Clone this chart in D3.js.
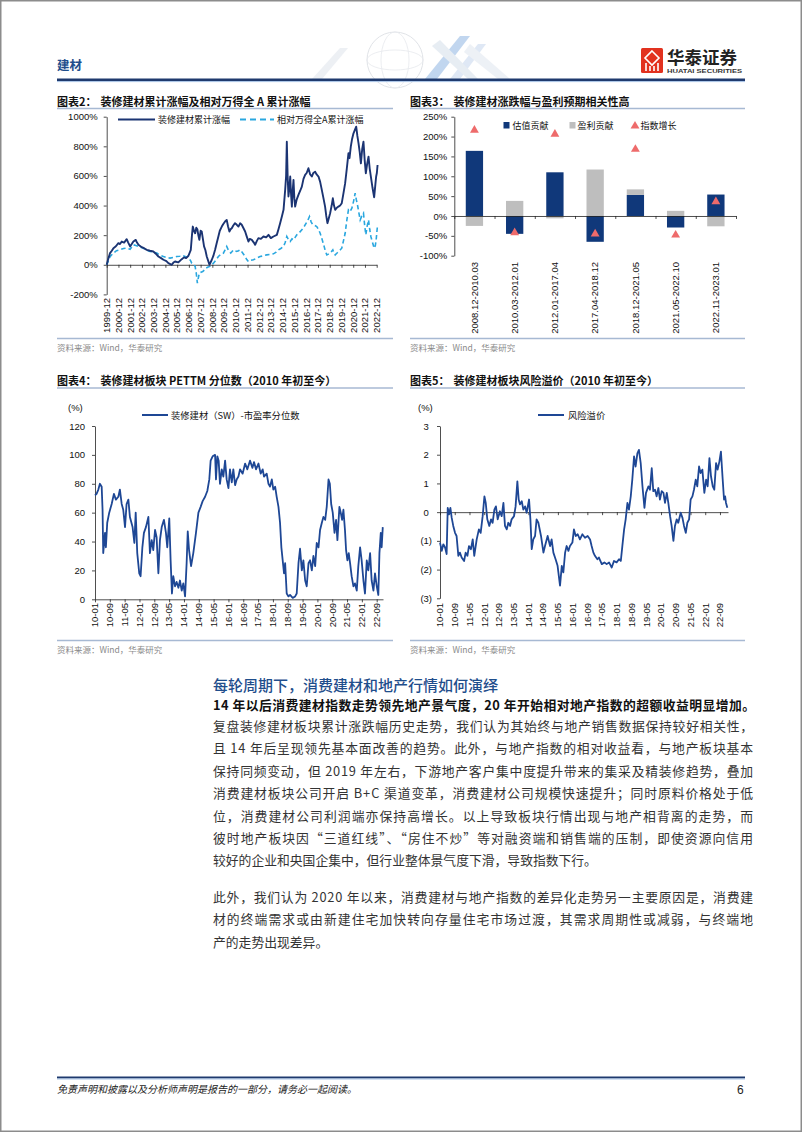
<!DOCTYPE html>
<html><head><meta charset="utf-8">
<script src="https://cdn.jsdelivr.net/npm/d3@7"></script>
<style>body{margin:0;background:#fff}svg{display:block}</style>
</head><body>
<svg id="page" width="802" height="1133"></svg>
<script>
// ---------------- DATA ----------------
const c2Ticks = ["1999-12","2000-12","2001-12","2002-12","2003-12","2004-12","2005-12","2006-12","2007-12","2008-12","2009-12","2010-12","2011-12","2012-12","2013-12","2014-12","2015-12","2016-12","2017-12","2018-12","2019-12","2020-12","2021-12","2022-12"];
const c2SeriesNames = ["装修建材累计涨幅","相对万得全A累计涨幅"];
const c2Sector = [[1999.92,0],[2000.05,40],[2000.20,79],[2000.35,95],[2000.49,112],[2000.70,125],[2000.91,146],[2001.05,140],[2001.20,157],[2001.40,150],[2001.62,173],[2001.75,150],[2001.91,124],[2002.05,140],[2002.19,157],[2002.39,168],[2002.50,150],[2002.62,135],[2002.90,119],[2003.10,112],[2003.33,101],[2003.60,95],[2003.89,90],[2004.10,75],[2004.32,56],[2004.55,45],[2004.75,34],[2005.00,25],[2005.17,11],[2005.46,0],[2005.60,15],[2005.74,22],[2006.02,16],[2006.20,30],[2006.31,38],[2006.50,50],[2006.68,45],[2006.88,61],[2007.08,101],[2007.18,200],[2007.25,258],[2007.35,230],[2007.45,213],[2007.55,250],[2007.64,240],[2007.72,200],[2007.81,168],[2007.92,230],[2008.01,225],[2008.10,180],[2008.21,124],[2008.32,100],[2008.44,56],[2008.55,30],[2008.67,0],[2008.87,34],[2009.00,60],[2009.15,101],[2009.30,150],[2009.43,191],[2009.55,230],[2009.72,258],[2009.85,275],[2010.00,292],[2010.14,303],[2010.25,260],[2010.37,225],[2010.47,240],[2010.57,247],[2010.70,265],[2010.85,281],[2011.00,270],[2011.14,258],[2011.28,280],[2011.42,270],[2011.55,250],[2011.71,225],[2011.85,190],[2011.99,157],[2012.10,175],[2012.28,168],[2012.45,150],[2012.56,135],[2012.70,160],[2012.84,180],[2013.05,175],[2013.27,191],[2013.50,185],[2013.70,202],[2013.90,180],[2014.12,191],[2014.41,202],[2014.55,240],[2014.69,281],[2014.85,330],[2014.98,371],[2015.12,506],[2015.20,600],[2015.26,831],[2015.33,600],[2015.40,461],[2015.48,520],[2015.55,596],[2015.62,480],[2015.69,393],[2015.76,500],[2015.83,573],[2015.90,450],[2015.97,393],[2016.10,440],[2016.25,472],[2016.40,500],[2016.54,528],[2016.68,580],[2016.82,607],[2016.95,620],[2017.10,652],[2017.25,610],[2017.39,596],[2017.52,620],[2017.67,629],[2017.80,610],[2017.96,596],[2018.10,560],[2018.24,506],[2018.38,450],[2018.52,393],[2018.62,330],[2018.72,281],[2018.82,310],[2018.95,348],[2019.08,400],[2019.18,449],[2019.28,400],[2019.38,371],[2019.52,385],[2019.66,393],[2019.80,400],[2019.94,416],[2020.08,480],[2020.23,551],[2020.37,650],[2020.51,753],[2020.60,720],[2020.71,798],[2020.82,850],[2020.94,888],[2021.05,910],[2021.17,933],[2021.27,870],[2021.37,820],[2021.47,760],[2021.57,685],[2021.68,780],[2021.79,831],[2021.90,700],[2021.99,618],[2022.10,680],[2022.22,730],[2022.32,650],[2022.42,596],[2022.56,520],[2022.70,456],[2022.80,540],[2022.87,596],[2022.93,620],[2022.99,674]];
const c2Relative = [[1999.92,0],[2000.20,55],[2000.49,79],[2000.75,95],[2001.05,101],[2001.35,110],[2001.62,112],[2001.91,105],[2002.19,135],[2002.40,130],[2002.62,124],[2003.04,112],[2003.30,100],[2003.61,90],[2003.90,85],[2004.18,79],[2004.45,65],[2004.75,56],[2005.05,48],[2005.31,45],[2005.60,50],[2005.88,56],[2006.15,58],[2006.45,61],[2006.70,52],[2006.88,45],[2007.05,30],[2007.16,11],[2007.30,5],[2007.45,-11],[2007.55,-60],[2007.64,-124],[2007.72,-90],[2007.81,-56],[2007.95,-50],[2008.10,-45],[2008.25,-35],[2008.38,-22],[2008.55,-15],[2008.72,-11],[2009.01,11],[2009.20,30],[2009.43,56],[2009.65,70],[2009.86,79],[2010.00,100],[2010.14,124],[2010.30,95],[2010.48,79],[2010.60,90],[2010.71,101],[2010.85,95],[2010.99,90],[2011.15,95],[2011.28,101],[2011.50,80],[2011.71,56],[2011.85,35],[2011.99,22],[2012.20,30],[2012.42,34],[2012.70,45],[2012.98,56],[2013.25,60],[2013.55,67],[2013.85,70],[2014.12,74],[2014.35,85],[2014.55,101],[2014.75,110],[2014.98,124],[2015.12,150],[2015.26,191],[2015.40,170],[2015.55,157],[2015.70,175],[2015.83,168],[2015.97,185],[2016.11,202],[2016.30,215],[2016.54,236],[2016.75,260],[2016.91,281],[2017.05,300],[2017.19,326],[2017.33,290],[2017.47,270],[2017.65,265],[2017.81,258],[2017.95,240],[2018.10,213],[2018.27,170],[2018.44,124],[2018.55,90],[2018.67,67],[2018.80,72],[2018.95,79],[2019.07,90],[2019.18,101],[2019.28,80],[2019.38,67],[2019.52,78],[2019.66,90],[2019.80,100],[2019.94,112],[2020.08,160],[2020.23,213],[2020.37,300],[2020.51,371],[2020.65,360],[2020.80,382],[2020.95,430],[2021.08,483],[2021.18,440],[2021.28,404],[2021.40,350],[2021.51,303],[2021.65,330],[2021.79,348],[2021.90,260],[2021.99,202],[2022.10,260],[2022.22,303],[2022.32,240],[2022.42,191],[2022.56,150],[2022.70,112],[2022.80,130],[2022.87,168],[2022.93,220],[2022.99,270]];

const c3Categories = ["2008.12-2010.03","2010.03-2012.01","2012.01-2017.04","2017.04-2018.12","2018.12-2021.05","2021.05-2022.10","2022.11-2023.01"];
const c3SeriesNames = ["估值贡献","盈利贡献","指数增长"];
const c3Valuation = [164,-45,110,-65,53,-29,54];
const c3Earnings = [-25,38,-6,117,14,13,-26];
const c3Index = [216,-42,206,-45,168,-48,36];

const c45Ticks = ["10-01","10-09","11-05","12-01","12-09","13-05","14-01","14-09","15-05","16-01","16-09","17-05","18-01","18-09","19-05","20-01","20-09","21-05","22-01","22-09"];
const c4Name = "装修建材（SW）-市盈率分位数";
const c4Pe = [[2010.00,72],[2010.07,73],[2010.15,76],[2010.22,80],[2010.30,78],[2010.34,62],[2010.37,32],[2010.45,46],[2010.49,36],[2010.55,53],[2010.64,60],[2010.75,66],[2010.85,73],[2010.94,69],[2011.05,71],[2011.12,76],[2011.20,66],[2011.27,62],[2011.35,50],[2011.42,66],[2011.50,69],[2011.57,57],[2011.69,50],[2011.77,39],[2011.83,60],[2011.90,32],[2011.99,18],[2012.05,16],[2012.13,36],[2012.20,46],[2012.29,50],[2012.40,57],[2012.47,32],[2012.55,41],[2012.62,34],[2012.70,48],[2012.77,43],[2012.85,18],[2012.92,41],[2013.00,50],[2013.10,55],[2013.19,46],[2013.25,36],[2013.34,56],[2013.40,27],[2013.46,4],[2013.52,16],[2013.60,9],[2013.67,12],[2013.75,8],[2013.82,13],[2013.90,6],[2013.97,11],[2014.05,2],[2014.12,25],[2014.17,47],[2014.23,34],[2014.32,23],[2014.42,32],[2014.54,46],[2014.65,60],[2014.75,64],[2014.84,68],[2014.95,71],[2015.05,75],[2015.14,83],[2015.20,96],[2015.29,99],[2015.40,100],[2015.44,83],[2015.50,99],[2015.56,96],[2015.62,80],[2015.70,90],[2015.77,85],[2015.85,96],[2015.92,83],[2016.00,77],[2016.07,90],[2016.15,81],[2016.22,90],[2016.30,79],[2016.37,83],[2016.45,85],[2016.52,90],[2016.64,87],[2016.75,94],[2016.85,90],[2016.97,96],[2017.08,91],[2017.15,95],[2017.24,90],[2017.35,94],[2017.45,87],[2017.54,90],[2017.60,85],[2017.72,87],[2017.80,80],[2017.87,78],[2017.95,83],[2018.02,76],[2018.10,78],[2018.17,71],[2018.25,64],[2018.32,53],[2018.38,36],[2018.44,27],[2018.50,18],[2018.55,25],[2018.62,4],[2018.70,2],[2018.77,3],[2018.89,1],[2019.00,2],[2019.07,4],[2019.15,25],[2019.22,35],[2019.30,20],[2019.37,27],[2019.45,13],[2019.52,9],[2019.60,25],[2019.67,27],[2019.75,20],[2019.82,30],[2019.90,23],[2019.97,39],[2020.05,36],[2020.12,48],[2020.20,53],[2020.27,57],[2020.35,55],[2020.42,64],[2020.50,83],[2020.56,80],[2020.62,66],[2020.69,60],[2020.77,46],[2020.84,55],[2020.90,41],[2020.99,64],[2021.05,60],[2021.11,55],[2021.17,62],[2021.24,48],[2021.29,34],[2021.35,27],[2021.41,32],[2021.47,25],[2021.54,16],[2021.62,9],[2021.69,11],[2021.77,6],[2021.84,23],[2021.92,36],[2021.99,27],[2022.07,13],[2022.14,4],[2022.22,27],[2022.29,20],[2022.37,32],[2022.44,13],[2022.52,6],[2022.59,18],[2022.67,9],[2022.74,3],[2022.79,32],[2022.85,46],[2022.89,36],[2022.94,50]];
const c5Name = "风险溢价";
const c5Risk = [[2010.00,-1.06],[2010.08,-1.35],[2010.15,-1.12],[2010.23,-1.23],[2010.30,-1.46],[2010.35,0.15],[2010.41,-0.08],[2010.47,0.15],[2010.53,-0.2],[2010.60,-0.48],[2010.68,-0.72],[2010.75,-0.83],[2010.83,-1.52],[2010.90,-1.41],[2010.98,-1.58],[2011.09,-1.70],[2011.16,-1.41],[2011.24,-1.52],[2011.31,-1.18],[2011.40,-1.29],[2011.48,-0.95],[2011.55,-1.52],[2011.66,-0.95],[2011.76,-0.6],[2011.84,-0.72],[2011.93,-0.14],[2012.01,0.55],[2012.07,0.32],[2012.14,-0.25],[2012.23,-0.48],[2012.31,-0.25],[2012.38,-0.37],[2012.46,0.09],[2012.53,0.2],[2012.61,-0.25],[2012.71,0.03],[2012.79,-0.14],[2012.87,0.32],[2012.94,-0.48],[2013.02,-0.6],[2013.09,-0.37],[2013.17,-0.48],[2013.24,-0.25],[2013.35,-0.14],[2013.42,0.2],[2013.50,1.07],[2013.56,0.44],[2013.62,0.27],[2013.70,0.38],[2013.77,0.09],[2013.85,0.2],[2013.92,-0.02],[2014.03,0.44],[2014.09,-0.25],[2014.15,-1.29],[2014.22,-0.95],[2014.30,-0.83],[2014.37,-0.25],[2014.45,-0.37],[2014.57,-0.83],[2014.68,-1.41],[2014.75,-1.18],[2014.87,-0.83],[2014.98,-1.18],[2015.05,-0.95],[2015.13,-1.41],[2015.23,-1.64],[2015.32,-1.87],[2015.43,-2.56],[2015.51,-1.87],[2015.58,-2.1],[2015.66,-1.41],[2015.73,-1.18],[2015.81,-1.35],[2015.88,-1.18],[2015.99,-1.06],[2016.06,-0.6],[2016.14,-0.83],[2016.23,-0.77],[2016.33,-0.95],[2016.44,-0.77],[2016.56,-0.89],[2016.68,-0.83],[2016.79,-0.95],[2016.86,-1.18],[2016.94,-1.41],[2017.01,-1.52],[2017.12,-1.64],[2017.19,-1.58],[2017.32,-1.81],[2017.44,-1.75],[2017.54,-1.81],[2017.65,-1.75],[2017.77,-1.93],[2017.87,-1.70],[2017.99,-1.75],[2018.10,-1.64],[2018.18,-1.70],[2018.25,-1.18],[2018.33,-0.6],[2018.40,-0.25],[2018.48,0.32],[2018.55,0.09],[2018.63,0.55],[2018.70,1.13],[2018.78,1.94],[2018.85,1.59],[2018.93,2.05],[2019.00,2.17],[2019.08,1.71],[2019.16,0.9],[2019.25,0.15],[2019.32,0.67],[2019.43,0.9],[2019.50,0.78],[2019.58,1.53],[2019.65,0.73],[2019.73,0.78],[2019.80,0.55],[2019.88,0.84],[2019.95,0.44],[2020.03,0.73],[2020.11,0.67],[2020.18,0.32],[2020.26,0.67],[2020.33,0.32],[2020.41,-0.14],[2020.48,-0.48],[2020.56,-1.0],[2020.63,-0.48],[2020.71,-0.25],[2020.78,-0.37],[2020.89,-0.02],[2020.97,-0.2],[2021.04,-0.48],[2021.12,-0.72],[2021.19,-0.37],[2021.27,-0.25],[2021.34,0.44],[2021.42,0.55],[2021.49,0.78],[2021.57,1.13],[2021.64,0.9],[2021.72,1.59],[2021.79,1.36],[2021.87,1.48],[2021.96,0.67],[2022.04,1.13],[2022.11,0.9],[2022.19,1.88],[2022.26,1.25],[2022.34,0.9],[2022.41,0.78],[2022.49,1.71],[2022.56,1.48],[2022.64,1.76],[2022.71,2.11],[2022.78,1.25],[2022.85,0.44],[2022.90,0.55],[2022.94,0.32],[2023.00,0.15]];

const titles = ["装修建材累计涨幅及相对万得全 A 累计涨幅","装修建材涨跌幅与盈利预期相关性高","装修建材板块 PETTM 分位数（2010 年初至今）","装修建材板块风险溢价（2010 年初至今）"];
const sourceText = "资料来源：Wind，华泰研究";
const headingText = "每轮周期下，消费建材和地产行情如何演绎";
const boldLine = "14 年以后消费建材指数走势领先地产景气度，20 年开始相对地产指数的超额收益明显增加。";
const para1 = ["复盘装修建材板块累计涨跌幅历史走势，我们认为其始终与地产销售数据保持较好相关性，","且 14 年后呈现领先基本面改善的趋势。此外，与地产指数的相对收益看，与地产板块基本","保持同频变动，但 2019 年左右，下游地产客户集中度提升带来的集采及精装修趋势，叠加","消费建材板块公司开启 B+C 渠道变革，消费建材公司规模快速提升；同时原料价格处于低","位，消费建材公司利润端亦保持高增长。以上导致板块行情出现与地产相背离的走势，而","彼时地产板块因“三道红线”、“房住不炒”等对融资端和销售端的压制，即使资源向信用","较好的企业和央国企集中，但行业整体景气度下滑，导致指数下行。"];
const para2 = ["此外，我们认为 2020 年以来，消费建材与地产指数的差异化走势另一主要原因是，消费建","材的终端需求或由新建住宅加快转向存量住宅市场过渡，其需求周期性或减弱，与终端地","产的走势出现差异。"];
const footerText = "免责声明和披露以及分析师声明是报告的一部分，请务必一起阅读。";

// ---------------- DRAW ----------------
const svg = d3.select("#page");
const CJK = "'Noto Sans CJK SC','Noto Sans',sans-serif";
const NUM = "'Liberation Sans',Arial,'Noto Sans CJK SC',sans-serif";
const NAVY = "#1B3473", LINE45 = "#1E4795", CYAN = "#2AA7DF", RULE = "#A7B9D3";

svg.append("rect").attr("x",0.75).attr("y",0.75).attr("width",800.5).attr("height",1130.5)
  .attr("fill","none").attr("stroke","#8c8c8c").attr("stroke-width",1.5);

// header
const hd = svg.append("g");
hd.append("text").attr("x",57).attr("y",70).text("建材").attr("font-family",CJK)
  .attr("font-weight",700).attr("font-size",12.5).attr("fill","#1F4E8C");
const deco = hd.append("g").attr("opacity",0.55);
deco.append("circle").attr("cx",395).attr("cy",60).attr("r",28).attr("fill","none").attr("stroke","#c9ced6").attr("stroke-width",1);
deco.append("ellipse").attr("cx",395).attr("cy",60).attr("rx",14).attr("ry",28).attr("fill","none").attr("stroke","#d4d8df").attr("stroke-width",0.8);
deco.append("ellipse").attr("cx",395).attr("cy",60).attr("rx",28).attr("ry",10).attr("fill","none").attr("stroke","#d4d8df").attr("stroke-width",0.8);
[["312,79 340,48 348,48 322,79","#dfe4ec"],["425,79 460,36 470,36 437,79","#8fb6e3"],["450,79 478,44 486,44 460,79","#c5d6ee"],["470,44 510,79 498,79 464,52","#dfe6f0"],["440,40 478,79 468,79 432,46","#d5dfeb"]]
  .forEach(p => deco.append("polygon").attr("points",p[0]).attr("fill",p[1]));
hd.append("rect").attr("x",57).attr("y",78.5).attr("width",688).attr("height",2.6).attr("fill","#1F3A6E");
hd.append("rect").attr("x",57).attr("y",81.1).attr("width",688).attr("height",1).attr("fill","#A8C4E6");
hd.append("rect").attr("x",641).attr("y",48).attr("width",22).attr("height",25).attr("rx",1.5).attr("fill","#E2321F");
hd.append("path").attr("d","M652,51 L659,58 L652,65 L645,58 Z").attr("fill","none").attr("stroke","#fff").attr("stroke-width",1.6);
hd.append("path").attr("d","M646,63 V71 M650,66 V71 M654,66 V71 M658,63 V71").attr("stroke","#fff").attr("stroke-width",1.6);
hd.append("text").attr("x",667).attr("y",64).text("华泰证券").attr("font-family",CJK).attr("font-weight",700).attr("font-size",17.5).attr("fill","#222");
hd.append("text").attr("x",667).attr("y",73).text("HUATAI SECURITIES").attr("font-family",NUM).attr("font-weight",700).attr("font-size",6).attr("fill","#333").attr("textLength",75).attr("lengthAdjust","spacingAndGlyphs");

function frame(x0, x1, yTitle, num, title, ySep){
  svg.append("text").attr("x",x0).attr("y",yTitle).attr("font-family",CJK).attr("font-weight",700)
    .attr("font-size",11).attr("fill","#111").text(`图表${num}：`)
    .append("tspan").attr("dx",4).text(title);
  svg.append("line").attr("x1",x0).attr("x2",x1).attr("y1",yTitle+3).attr("y2",yTitle+3).attr("stroke",RULE).attr("stroke-width",1.3);
  svg.append("line").attr("x1",x0).attr("x2",x1).attr("y1",ySep).attr("y2",ySep).attr("stroke",RULE).attr("stroke-width",1.3);
  svg.append("text").attr("x",x0).attr("y",ySep+12).attr("font-family",CJK).attr("font-size",8.5).attr("fill","#8a8a8a").text(sourceText);
}
function styleAxis(g){
  g.selectAll("path,line").attr("stroke","#222").attr("stroke-width",0.8);
  g.selectAll("text").attr("font-family",NUM).attr("font-size",9.5).attr("fill","#111");
}
function rotLabels(labels, xf, yTop){
  svg.append("g").selectAll("text").data(labels).join("text")
    .attr("transform", d => `translate(${xf(d)},${yTop}) rotate(-90)`)
    .attr("text-anchor","end").attr("dy","0.35em")
    .attr("font-family",NUM).attr("font-size",9.5).attr("fill","#111").text(d => d);
}
const ymPos = s => { const [a,b] = s.split("-").map(Number); return (a<100 ? 2000+a : a) + (b-1)/12; };

// ---------- Chart 2 ----------
frame(57, 393, 105.5, 2, titles[0], 338.5);
{
  const x = d3.scaleLinear().domain([ymPos("1999-12"), ymPos("2022-12")]).range([106.7, 376.7]);
  const y = d3.scaleLinear().domain([-200,1000]).range([294.4,116.7]);
  styleAxis(svg.append("g").attr("transform","translate(106.7,0)")
    .call(d3.axisLeft(y).tickValues(d3.range(-200,1001,200)).tickSize(3).tickSizeOuter(0).tickPadding(6).tickFormat(d=>d+"%")));
  styleAxis(svg.append("g").attr("transform",`translate(0,${y(0)})`)
    .call(d3.axisBottom(x).tickValues(c2Ticks.map(ymPos)).tickSize(3).tickSizeOuter(0).tickFormat("")));
  rotLabels(c2Ticks, d => x(ymPos(d)), 298);
  const line = d3.line().x(d=>x(d[0])).y(d=>y(d[1]));
  svg.append("path").datum(c2Relative).attr("d",line).attr("fill","none").attr("stroke",CYAN).attr("stroke-width",1.6).attr("stroke-dasharray","4.5,3");
  svg.append("path").datum(c2Sector).attr("d",line).attr("fill","none").attr("stroke",NAVY).attr("stroke-width",1.9).attr("stroke-linejoin","round");
  svg.append("line").attr("x1",118).attr("x2",155).attr("y1",119.5).attr("y2",119.5).attr("stroke",NAVY).attr("stroke-width",2);
  svg.append("text").attr("x",158).attr("y",123).attr("font-family",CJK).attr("font-size",9).attr("fill","#111").text(c2SeriesNames[0]);
  svg.append("line").attr("x1",240).attr("x2",274).attr("y1",119.5).attr("y2",119.5).attr("stroke",CYAN).attr("stroke-width",2).attr("stroke-dasharray","6,4");
  svg.append("text").attr("x",277).attr("y",123).attr("font-family",CJK).attr("font-size",9).attr("fill","#111").text(c2SeriesNames[1]);
}

// ---------- Chart 3 ----------
frame(410, 745, 105.5, 3, titles[1], 338.5);
{
  const x = d3.scaleBand().domain(c3Categories).range([454.3,736]).paddingInner(0.57).paddingOuter(0.285);
  const y = d3.scaleLinear().domain([-100,250]).range([255.7,116.7]);
  const rows = c3Categories.map((c,i)=>({cat:c, valuation:c3Valuation[i], earnings:c3Earnings[i]}));
  const stack = d3.stack().keys(["valuation","earnings"]).offset(d3.stackOffsetDiverging)(rows);
  const colors = {valuation:"#10387A", earnings:"#BEBEBE"};
  stack.forEach(layer => {
    svg.append("g").selectAll("rect").data(layer).join("rect")
      .attr("x", d => x(d.data.cat)).attr("width", x.bandwidth())
      .attr("y", d => y(Math.max(d[0],d[1]))).attr("height", d => Math.abs(y(d[0])-y(d[1])))
      .attr("fill", colors[layer.key]);
  });
  styleAxis(svg.append("g").attr("transform","translate(454.3,0)")
    .call(d3.axisLeft(y).tickValues(d3.range(-100,251,50)).tickSize(3).tickSizeOuter(0).tickPadding(4).tickFormat(d=>d+"%")));
  const xb = d3.scaleLinear().domain([0,c3Categories.length]).range([454.3,736]);
  styleAxis(svg.append("g").attr("transform",`translate(0,${y(0)})`)
    .call(d3.axisBottom(xb).tickValues(d3.range(0,c3Categories.length+1)).tickSize(3).tickSizeOuter(0).tickFormat("")));
  const tri = d3.symbol(d3.symbolTriangle, 34);
  svg.append("g").selectAll("path").data(c3Index).join("path")
    .attr("d", tri).attr("transform",(d,i)=>`translate(${x(c3Categories[i])+x.bandwidth()/2},${y(d)})`).attr("fill","#EE6B6B");
  rotLabels(c3Categories, d => x(d)+x.bandwidth()/2, 262);
  svg.append("rect").attr("x",503.5).attr("y",122).attr("width",6).attr("height",6.5).attr("fill",colors.valuation);
  svg.append("text").attr("x",512.5).attr("y",128.5).attr("font-family",CJK).attr("font-size",9).attr("fill","#111").text(c3SeriesNames[0]);
  svg.append("rect").attr("x",569.5).attr("y",122).attr("width",6).attr("height",6.5).attr("fill",colors.earnings);
  svg.append("text").attr("x",577.5).attr("y",128.5).attr("font-family",CJK).attr("font-size",9).attr("fill","#111").text(c3SeriesNames[1]);
  svg.append("path").attr("d",tri).attr("transform","translate(635,126)").attr("fill","#EE6B6B");
  svg.append("text").attr("x",640.5).attr("y",128.5).attr("font-family",CJK).attr("font-size",9).attr("fill","#111").text(c3SeriesNames[2]);
}

// ---------- Chart 4 ----------
frame(57, 393, 385, 4, titles[2], 640.5);
{
  const x = d3.scaleLinear().domain([2010, 2022.95]).range([95,383]);
  const y = d3.scaleLinear().domain([0,120]).range([599.3,426]);
  styleAxis(svg.append("g").attr("transform","translate(95,0)")
    .call(d3.axisLeft(y).tickValues(d3.range(0,121,20)).tickSize(3).tickSizeOuter(0).tickPadding(7)));
  styleAxis(svg.append("g").attr("transform",`translate(0,${y(0)})`)
    .call(d3.axisBottom(x).tickValues(c45Ticks.map(ymPos)).tickSize(3).tickSizeOuter(0).tickFormat("")));
  rotLabels(c45Ticks, d => x(ymPos(d)), 603);
  svg.append("path").datum(c4Pe).attr("d", d3.line().x(d=>x(d[0])).y(d=>y(d[1])))
    .attr("fill","none").attr("stroke",LINE45).attr("stroke-width",1.8).attr("stroke-linejoin","round");
  svg.append("text").attr("x",68).attr("y",410.5).attr("font-family",NUM).attr("font-size",9.5).attr("fill","#111").text("(%)");
  svg.append("line").attr("x1",142).attr("x2",168).attr("y1",415).attr("y2",415).attr("stroke",LINE45).attr("stroke-width",2);
  svg.append("text").attr("x",171).attr("y",418.5).attr("font-family",CJK).attr("font-size",9.3).attr("fill","#111").text(c4Name);
}

// ---------- Chart 5 ----------
frame(410, 745, 385, 5, titles[3], 640.5);
{
  const x = d3.scaleLinear().domain([2010, 2023.03]).range([440,728]);
  const y = d3.scaleLinear().domain([-3,3]).range([598.3,426]);
  const ax = svg.append("g").attr("transform","translate(440,0)")
    .call(d3.axisLeft(y).tickValues(d3.range(-3,4,1)).tickSize(3).tickSizeOuter(0).tickPadding(5)
      .tickFormat(d => d<0 ? `(${-d})` : `${d}`));
  styleAxis(ax);
  ax.selectAll(".tick text").filter(d => d>=0).append("tspan").attr("fill-opacity",0).text(")");
  styleAxis(svg.append("g").attr("transform",`translate(0,${y(0)})`)
    .call(d3.axisBottom(x).tickValues(c45Ticks.map(ymPos)).tickSize(3).tickSizeOuter(0).tickFormat("")));
  rotLabels(c45Ticks, d => x(ymPos(d)), 603);
  svg.append("path").datum(c5Risk).attr("d", d3.line().x(d=>x(d[0])).y(d=>y(d[1])))
    .attr("fill","none").attr("stroke",LINE45).attr("stroke-width",1.8).attr("stroke-linejoin","round");
  svg.append("text").attr("x",418).attr("y",410.5).attr("font-family",NUM).attr("font-size",9.5).attr("fill","#111").text("(%)");
  svg.append("line").attr("x1",538).attr("x2",564).attr("y1",415).attr("y2",415).attr("stroke",LINE45).attr("stroke-width",2);
  svg.append("text").attr("x",568).attr("y",418.5).attr("font-family",CJK).attr("font-size",9.3).attr("fill","#111").text(c5Name);
}

// ---------- Text ----------
svg.append("text").attr("x",213).attr("y",690.5).attr("font-family",CJK).attr("font-weight",500)
  .attr("font-size",15).attr("fill","#1F4E8C").text(headingText);
svg.append("text").attr("x",213).attr("y",710).attr("font-family",CJK).attr("font-weight",700)
  .attr("font-size",12.8).attr("fill","#111").attr("textLength",542).attr("lengthAdjust","spacing").text(boldLine);
function para(lines, y0){
  svg.append("g").selectAll("text").data(lines).join("text")
    .attr("x",213).attr("y",(d,i)=>y0+i*22.4)
    .attr("font-family",CJK).attr("font-size",12.8).attr("fill","#333")
    .each(function(d,i){ if(i<lines.length-1) d3.select(this).attr("textLength",540).attr("lengthAdjust","spacing"); })
    .text(d=>d);
}
para(para1, 731);
para(para2, 902);

// ---------- Footer ----------
svg.append("rect").attr("x",57).attr("y",1076.5).attr("width",688).attr("height",2).attr("fill","#1F3A6E");
svg.append("rect").attr("x",57).attr("y",1078.5).attr("width",688).attr("height",1).attr("fill","#A8C4E6");
svg.append("text").attr("x",57).attr("y",1093).attr("font-family",CJK).attr("font-style","italic").attr("font-size",10).attr("fill","#222").text(footerText);
svg.append("text").attr("x",737).attr("y",1094).attr("font-family",NUM).attr("font-size",12).attr("fill","#222").text("6");
</script>
</body></html>
